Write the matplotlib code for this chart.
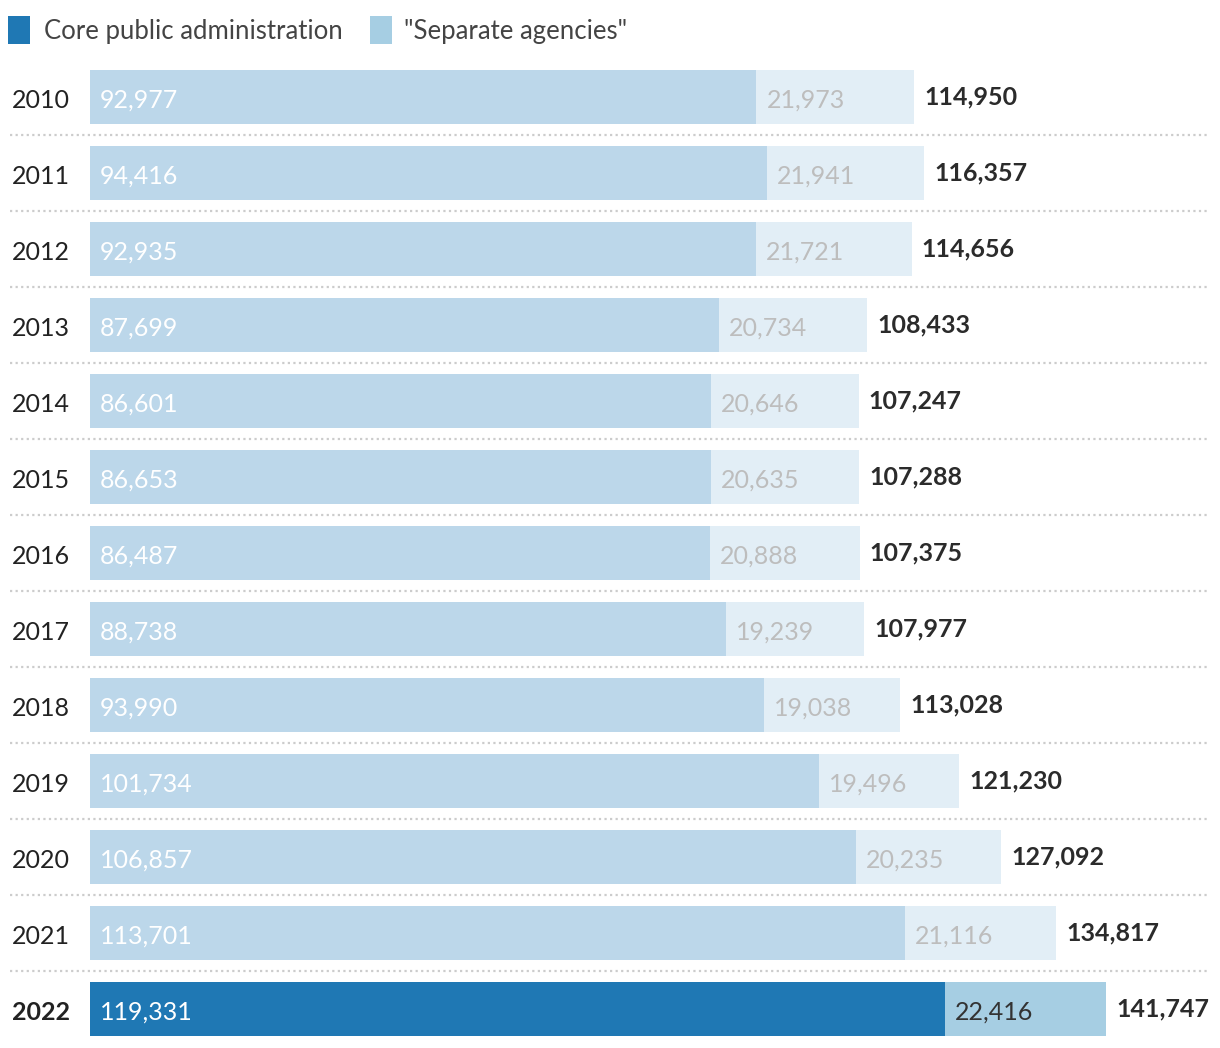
import matplotlib
matplotlib.use("Agg")
import matplotlib.pyplot as plt
from matplotlib.patches import Rectangle

years = ["2010", "2011", "2012", "2013", "2014", "2015", "2016",
         "2017", "2018", "2019", "2020", "2021", "2022"]
core = [92977, 94416, 92935, 87699, 86601, 86653, 86487,
        88738, 93990, 101734, 106857, 113701, 119331]
separate = [21973, 21941, 21721, 20734, 20646, 20635, 20888,
            19239, 19038, 19496, 20235, 21116, 22416]
legend_labels = ["Core public administration", '"Separate agencies"']

plt.rcParams['font.family'] = ['Lato', 'DejaVu Sans']

W, H = 1220, 1048
fig = plt.figure(figsize=(W / 100, H / 100), dpi=100)
ax = fig.add_axes([0, 0, 1, 1])
ax.axis('off')

k = (1106 - 90) / 141747.0  # px per unit
ax.set_xlim(-90 / k, (W - 90) / k)
ax.set_ylim((H - 97) / 76.0, -97 / 76.0)

c_core_l, c_sep_l = "#bcd7ea", "#e2eef6"
c_core_d, c_sep_d = "#1f78b4", "#a6cee3"
fs = 18
n = len(years)
for i, (y, c, s) in enumerate(zip(years, core, separate)):
    last = (i == n - 1)
    cc = c_core_d if last else c_core_l
    sc = c_sep_d if last else c_sep_l
    ax.barh(i, c, height=54 / 76, left=0, color=cc, linewidth=0)
    ax.barh(i, s, height=54 / 76, left=c, color=sc, linewidth=0)
    pad = 10 / k
    ax.text(pad, i + 0.04, f"{c:,}", color="white", fontsize=fs,
            va="center", ha="left")
    ax.text(c + pad, i + 0.04, f"{s:,}", color="#333333" if last else "#bdbdbd",
            fontsize=fs, va="center", ha="left")
    ax.text(c + s + pad, i + 0.0, f"{c + s:,}", color="#2b2b2b", fontsize=fs,
            fontweight="bold", va="center", ha="left")
    ax.text(-78 / k, i + 0.04, y, color="#222222", fontsize=fs,
            fontweight="bold" if last else "normal", va="center", ha="left")
    if i < n - 1:
        ax.plot([-80 / k, (1208 - 90) / k], [i + 0.5, i + 0.5], color="#cccccc",
                linestyle=(0, (1, 1.5)), linewidth=1.6)

# legend
fig.patches.append(Rectangle((8 / W, 1 - 44 / H), 22 / W, 28 / H,
                             transform=fig.transFigure, color=c_core_d, linewidth=0))
fig.text(44 / W, 1 - 32 / H, legend_labels[0], fontsize=fs + 0.5, color="#444444",
         va="center", ha="left")
fig.patches.append(Rectangle((370 / W, 1 - 44 / H), 22 / W, 28 / H,
                             transform=fig.transFigure, color=c_sep_d, linewidth=0))
fig.text(404 / W, 1 - 32 / H, legend_labels[1], fontsize=fs + 0.5, color="#444444",
         va="center", ha="left")

fig.savefig("out.png", dpi=100)
